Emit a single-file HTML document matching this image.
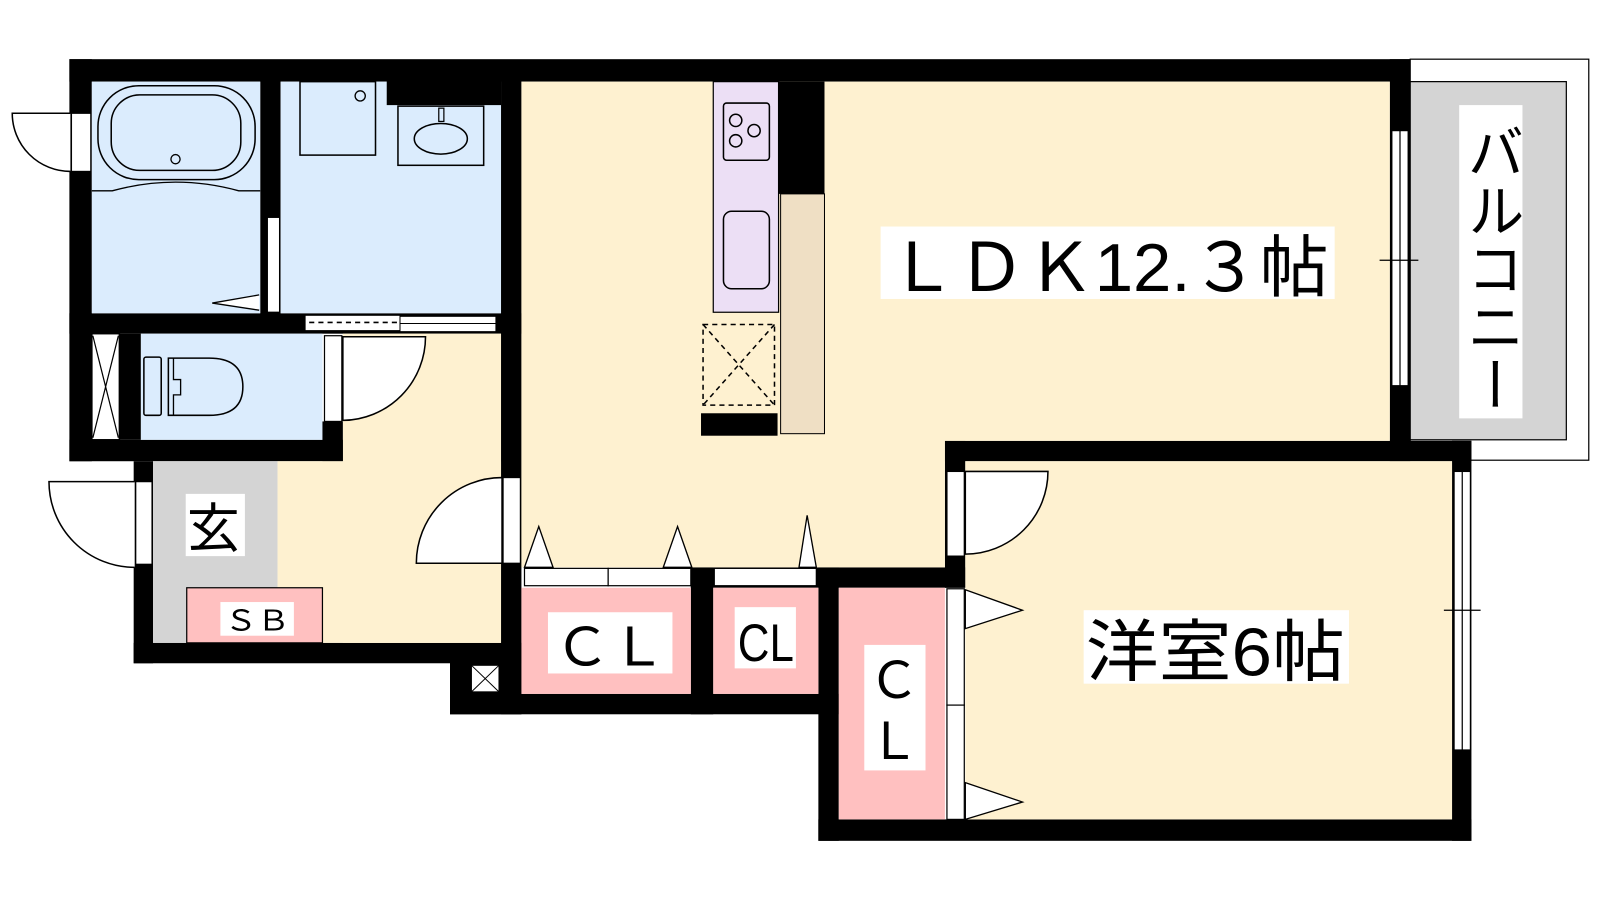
<!DOCTYPE html>
<html><head><meta charset="utf-8"><style>
html,body{margin:0;padding:0;background:#fff;}
svg{display:block;}
text{font-family:"Liberation Sans","Noto Sans CJK JP",sans-serif;fill:#000;}
</style></head><body>
<svg width="1600" height="900" viewBox="0 0 1568 882" xmlns="http://www.w3.org/2000/svg">
<!-- balcony -->
<rect x="1382" y="58" width="175" height="393" fill="#fff" stroke="#000" stroke-width="1.2"/>
<rect x="1382" y="80" width="153" height="351" fill="#d4d4d4" stroke="#000" stroke-width="1.2"/>
<rect x="1430" y="103" width="62" height="307" fill="#fff"/>
<text x="1461" y="120" font-size="56" style="writing-mode:vertical-rl" textLength="285" lengthAdjust="spacingAndGlyphs">バルコニー</text>

<!-- black walls base -->
<rect x="68" y="58" width="1314" height="22" fill="#000"/>
<rect x="68" y="58" width="22" height="394" fill="#000"/>
<rect x="68" y="431" width="309" height="21" fill="#000"/>
<rect x="68" y="307" width="443" height="20" fill="#000"/>
<rect x="255" y="79" width="20" height="230" fill="#000"/>
<rect x="491" y="79" width="20" height="621" fill="#000"/>
<rect x="1362" y="58" width="20" height="394" fill="#000"/>
<rect x="926" y="432" width="516" height="20" fill="#000"/>
<rect x="1423" y="432" width="19" height="392" fill="#000"/>
<rect x="802" y="803" width="640" height="21" fill="#000"/>
<rect x="802" y="556" width="20" height="268" fill="#000"/>
<rect x="926" y="432" width="20" height="144" fill="#000"/>
<rect x="677" y="556" width="269" height="20" fill="#000"/>
<rect x="441" y="680" width="381" height="20" fill="#000"/>
<rect x="441" y="630" width="70" height="70" fill="#000"/>
<rect x="131" y="630" width="380" height="20" fill="#000"/>
<rect x="131" y="452" width="19" height="198" fill="#000"/>
<rect x="677" y="556" width="22" height="144" fill="#000"/>

<!-- rooms -->
<rect x="90" y="80" width="165" height="227" fill="#dbecfd"/>
<rect x="275" y="80" width="216" height="227" fill="#dbecfd"/>
<rect x="379" y="79" width="112" height="24" fill="#000"/>
<rect x="138" y="327" width="178" height="104" fill="#dbecfd"/>
<rect x="117" y="327" width="21" height="104" fill="#000"/>
<rect x="90" y="327" width="27" height="104" fill="#fff" stroke="#000" stroke-width="1.5"/>
<path d="M91 329 L116 429 M116 329 L91 429" stroke="#000" stroke-width="1.2"/>
<rect x="336" y="327" width="155" height="303" fill="#fef1d0"/>
<rect x="316" y="413" width="20" height="39" fill="#000"/>
<rect x="150" y="452" width="122" height="178" fill="#d4d4d4"/>
<rect x="272" y="452" width="219" height="178" fill="#fef1d0"/>
<rect x="183" y="576" width="133" height="54" fill="#ffc0c0" stroke="#000" stroke-width="1.2"/>
<path d="M511 80 H1362 V432 H926 V556 H511 Z" fill="#fef1d0"/>
<rect x="946" y="452" width="477" height="351" fill="#fef1d0"/>
<rect x="511" y="576" width="166" height="104" fill="#ffc0c0"/>
<rect x="699" y="576" width="103" height="104" fill="#ffc0c0"/>
<rect x="822" y="576" width="104" height="227" fill="#ffc0c0"/>
<rect x="462" y="652" width="27" height="26" fill="#fff" stroke="#000" stroke-width="1"/>
<path d="M462 652 L489 678 M489 652 L462 678" stroke="#000" stroke-width="1"/>

<!-- kitchen -->
<rect x="699" y="80" width="64" height="226" fill="#ecdff5" stroke="#000" stroke-width="1.2"/>
<rect x="709" y="101" width="45" height="56" rx="3" fill="none" stroke="#000" stroke-width="1.5"/>
<circle cx="721" cy="118" r="6" fill="none" stroke="#000" stroke-width="1.5"/>
<circle cx="739" cy="128" r="6" fill="none" stroke="#000" stroke-width="1.5"/>
<circle cx="721" cy="138" r="6" fill="none" stroke="#000" stroke-width="1.5"/>
<rect x="709" y="207" width="45" height="76" rx="8" fill="none" stroke="#000" stroke-width="1.5"/>
<rect x="763" y="80" width="45" height="110" fill="#000"/>
<rect x="765" y="190" width="43" height="235" fill="#efdfc4" stroke="#000" stroke-width="1"/>
<rect x="689" y="318" width="70" height="79" fill="none" stroke="#000" stroke-width="1.5" stroke-dasharray="5,4"/>
<path d="M689 318 L759 397 M759 318 L689 397" stroke="#000" stroke-width="1.5" stroke-dasharray="5,4"/>
<rect x="687" y="405" width="75" height="22" fill="#000"/>

<!-- bath fixtures -->
<rect x="96" y="84" width="154" height="92" rx="40" fill="none" stroke="#000" stroke-width="1.5"/>
<rect x="109" y="93" width="127" height="74" rx="28" fill="none" stroke="#000" stroke-width="1.5"/>
<circle cx="172" cy="156" r="4.5" fill="none" stroke="#000" stroke-width="1.3"/>
<path d="M90 187 L110 187 Q172 170 234 187 L255 187" fill="none" stroke="#000" stroke-width="1.3"/>
<rect x="262" y="213" width="12" height="93" fill="#fff" stroke="#000" stroke-width="1.2"/>
<path d="M254 289 L208 297 L254 304" fill="#fff" stroke="#000" stroke-width="1.3"/>
<rect x="294" y="80" width="74" height="72" fill="none" stroke="#000" stroke-width="1.5"/>
<circle cx="353" cy="94" r="5" fill="none" stroke="#000" stroke-width="1.3"/>
<rect x="390" y="104" width="84" height="58" fill="none" stroke="#000" stroke-width="1.5"/>
<ellipse cx="432" cy="136" rx="26" ry="15" fill="none" stroke="#000" stroke-width="1.5"/>
<rect x="430" y="106" width="5" height="13" fill="none" stroke="#000" stroke-width="1.2"/>
<!-- sliding door -->
<rect x="299" y="309" width="93" height="15" fill="#fff" stroke="#000" stroke-width="1"/>
<path d="M303 316 H390" stroke="#000" stroke-width="1.5" stroke-dasharray="5,4"/>
<rect x="392" y="310" width="94" height="15" fill="#fff" stroke="#000" stroke-width="1"/>
<path d="M392 317 H486" stroke="#000" stroke-width="1"/>
<!-- toilet -->
<rect x="141" y="350" width="17" height="57" rx="2" fill="none" stroke="#000" stroke-width="1.5"/>
<path d="M165 351 H205 Q238 351 238 379 Q238 407 205 407 H165 Z" fill="none" stroke="#000" stroke-width="1.5"/>
<path d="M170 351 V372 H177 V387 H170 V407" fill="none" stroke="#000" stroke-width="1.3"/>
<!-- doors -->
<rect x="70" y="111" width="19" height="57" fill="#fff" stroke="#000" stroke-width="1.2"/>
<path d="M69 111 H12 A57 57 0 0 0 69 168" fill="#fff" stroke="#000" stroke-width="1.5"/>
<rect x="318" y="329" width="17" height="84" fill="#fff" stroke="#000" stroke-width="1.2"/>
<path d="M336 330 H417 A82 82 0 0 1 336 412 Z" fill="#fff" stroke="#000" stroke-width="1.5"/>
<rect x="493" y="468" width="17" height="84" fill="#fff" stroke="#000" stroke-width="1.2"/>
<path d="M492 552 H408 A84 84 0 0 1 492 468 Z" fill="#fff" stroke="#000" stroke-width="1.5"/>
<rect x="133" y="472" width="16" height="81" fill="#fff" stroke="#000" stroke-width="1.2"/>
<path d="M132 472 H48 A84 84 0 0 0 132 556" fill="#fff" stroke="#000" stroke-width="1.5"/>
<rect x="928" y="462" width="17" height="83" fill="#fff" stroke="#000" stroke-width="1.2"/>
<path d="M946 462 H1027 A81 81 0 0 1 946 543 Z" fill="#fff" stroke="#000" stroke-width="1.5"/>
<!-- closet doors -->
<rect x="514" y="557" width="82" height="17" fill="#fff" stroke="#000" stroke-width="1.2"/>
<rect x="596" y="557" width="81" height="17" fill="#fff" stroke="#000" stroke-width="1.2"/>
<rect x="700" y="557" width="100" height="17" fill="#fff" stroke="#000" stroke-width="1.2"/>
<path d="M514 556 L528 516 L542 556 Z M650 556 L664 516 L678 556 Z M783 556 L791 505 L800 556 Z" fill="#fff" stroke="#000" stroke-width="1.3"/>
<rect x="928" y="577" width="17" height="114" fill="#fff" stroke="#000" stroke-width="1.2"/>
<rect x="928" y="691" width="17" height="112" fill="#fff" stroke="#000" stroke-width="1.2"/>
<path d="M946 578 L1002 598 L946 616 Z M946 767 L1002 786 L946 803 Z" fill="#fff" stroke="#000" stroke-width="1.3"/>
<!-- windows -->
<rect x="1364" y="128" width="16" height="250" fill="#fff" stroke="#000" stroke-width="1.2"/>
<path d="M1372 128 V378 M1352 255 H1390" stroke="#000" stroke-width="1.2"/>
<rect x="1425" y="462" width="16" height="273" fill="#fff" stroke="#000" stroke-width="1.2"/>
<path d="M1433 462 V735 M1415 598 H1451" stroke="#000" stroke-width="1.2"/>

<!-- labels -->
<rect x="863" y="222" width="445" height="71" fill="#fff"/>
<text x="870" y="285" font-size="66" textLength="432" lengthAdjust="spacingAndGlyphs">ＬＤＫ12.３帖</text>
<rect x="1062" y="598" width="260" height="72" fill="#fff"/>
<text x="1064" y="662" font-size="66" textLength="254" lengthAdjust="spacingAndGlyphs">洋室6帖</text>
<rect x="182" y="484" width="58" height="61" fill="#fff"/>
<text x="183" y="536" font-size="52">玄</text>
<rect x="216" y="590" width="72" height="33" fill="#fff"/>
<text x="220" y="618" font-size="28" textLength="64" lengthAdjust="spacingAndGlyphs">ＳＢ</text>
<rect x="537" y="600" width="122" height="60" fill="#fff"/>
<text x="543" y="652" font-size="52" textLength="110" lengthAdjust="spacingAndGlyphs">ＣＬ</text>
<rect x="720" y="595" width="60" height="60" fill="#fff"/>
<text x="723" y="648" font-size="52" textLength="55" lengthAdjust="spacingAndGlyphs">CL</text>
<rect x="847" y="632" width="60" height="123" fill="#fff"/>
<text x="851" y="684" font-size="50">Ｃ</text>
<text x="851" y="744" font-size="50">Ｌ</text>
</svg>
</body></html>
